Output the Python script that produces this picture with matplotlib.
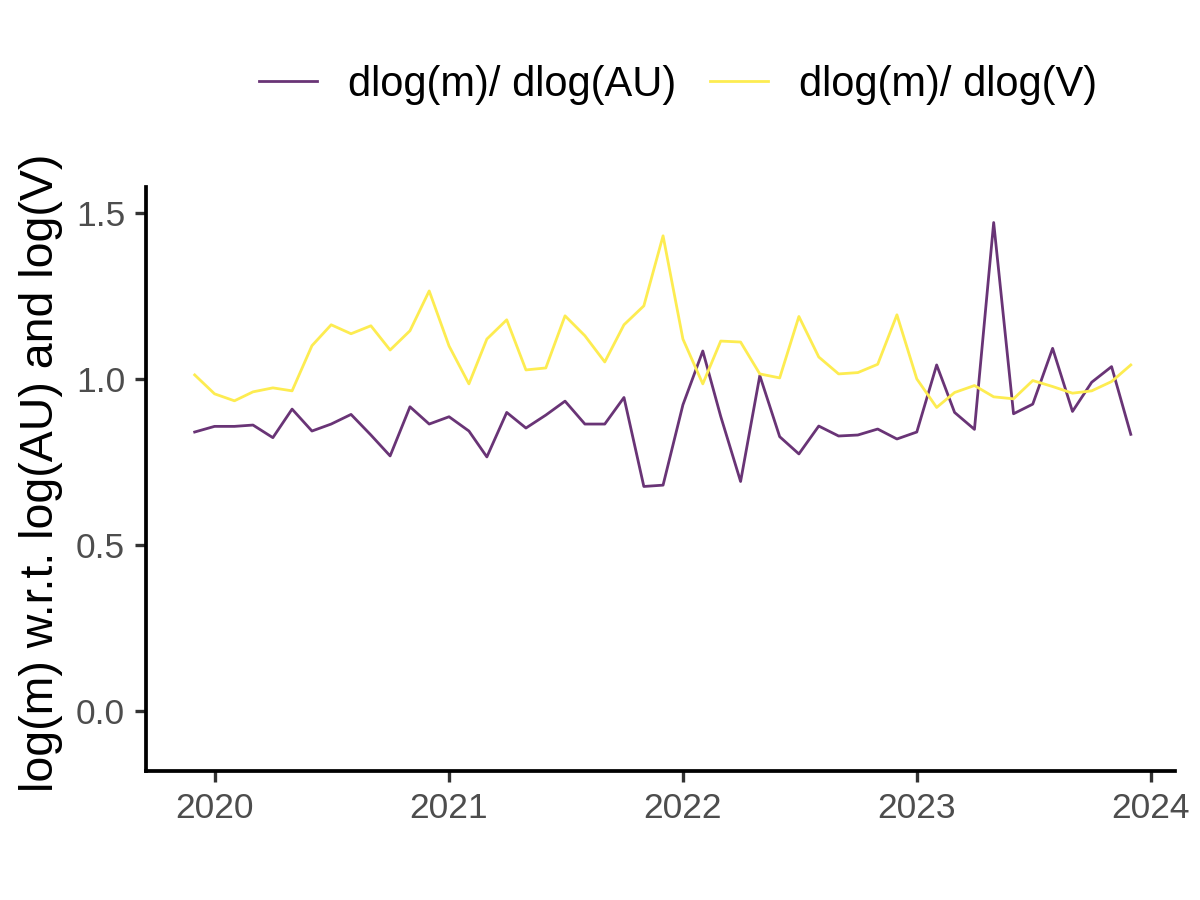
import datetime as dt

import matplotlib
matplotlib.use("Agg")
import matplotlib.pyplot as plt
import matplotlib.dates as mdates

# monthly series, Dec 2019 .. Dec 2023
start_year, start_month = 2019, 12
elast_au = [
    0.840, 0.857, 0.857, 0.861, 0.823, 0.909, 0.843, 0.864, 0.893, 0.831,
    0.768, 0.916, 0.864, 0.886, 0.843, 0.765, 0.899, 0.852, 0.891, 0.933,
    0.864, 0.864, 0.944, 0.676, 0.680, 0.922, 1.084, 0.887, 0.691, 1.010,
    0.826, 0.774, 0.858, 0.828, 0.831, 0.849, 0.819, 0.840, 1.042, 0.899,
    0.848, 1.471, 0.895, 0.924, 1.092, 0.902, 0.990, 1.037, 0.833,
]
elast_v = [
    1.012, 0.955, 0.934, 0.961, 0.973, 0.964, 1.100, 1.163, 1.136, 1.160,
    1.087, 1.145, 1.265, 1.099, 0.985, 1.120, 1.178, 1.027, 1.033, 1.190,
    1.130, 1.051, 1.163, 1.220, 1.431, 1.120, 0.985, 1.114, 1.111, 1.015,
    1.003, 1.188, 1.066, 1.015, 1.019, 1.044, 1.193, 1.000, 0.914, 0.959,
    0.980, 0.946, 0.940, 0.995, 0.977, 0.957, 0.964, 0.992, 1.042,
]
series_labels = ["dlog(m)/ dlog(AU)", "dlog(m)/ dlog(V)"]
y_ticks = [0.0, 0.5, 1.0, 1.5]


def month_dates(year, month, n):
    out = []
    for k in range(n):
        m = month - 1 + k
        out.append(dt.date(year + m // 12, m % 12 + 1, 1))
    return out


dates = month_dates(start_year, start_month, len(elast_au))

plt.rcParams["font.family"] = ["Liberation Sans", "DejaVu Sans"]

fig = plt.figure(figsize=(12, 9), dpi=100)
ax = fig.add_axes([146 / 1200, 1 - 771 / 900, (1175 - 146) / 1200, (771 - 187) / 900])

purple = "#693476"
yellow = "#FDEC51"
l1, = ax.plot(dates, elast_au, color=purple, linewidth=2.0, label=series_labels[0])
l2, = ax.plot(dates, elast_v, color=yellow, linewidth=2.0, label=series_labels[1])

ax.set_ylim(-0.181, 1.578)
ax.set_xlim(dt.date(2019, 9, 16), dt.date(2024, 2, 8))
ax.set_yticks(y_ticks)
ax.set_yticklabels([f"{v:.1f}" for v in y_ticks])
ax.xaxis.set_major_locator(mdates.YearLocator())
ax.xaxis.set_major_formatter(mdates.DateFormatter("%Y"))

for side in ("top", "right"):
    ax.spines[side].set_visible(False)
for side in ("left", "bottom"):
    ax.spines[side].set_linewidth(2.7)
    ax.spines[side].set_color("black")
    ax.spines[side].set_capstyle("projecting")

ax.tick_params(axis="both", length=8, width=2.4, color="#333333",
               labelsize=25.5, labelcolor="#4D4D4D", pad=7)

ax.set_ylabel("log(m) w.r.t. log(AU) and log(V)", fontsize=33.5, color="black")
ax.yaxis.set_label_coords(-0.081, 0.51)

fig.legend(handles=[l1, l2], loc="center", bbox_to_anchor=(0.565, 1 - 85 / 900),
           ncol=2, frameon=False, fontsize=30, handlelength=1.4,
           handletextpad=0.75, columnspacing=0.8)

fig.savefig("out.png", dpi=100, facecolor="white")
